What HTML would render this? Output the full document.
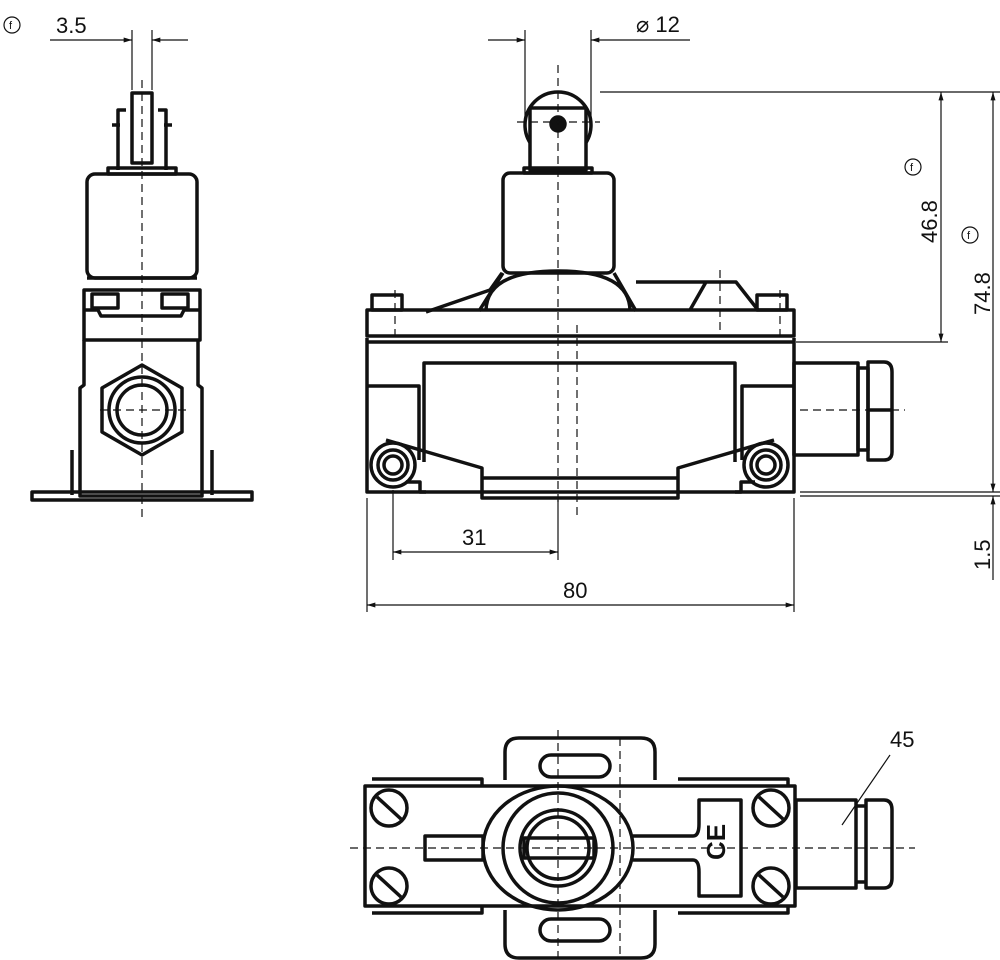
<!DOCTYPE html>
<html><head><meta charset="utf-8"><style>
html,body{margin:0;padding:0;background:#fff}
svg{display:block}
text{font-family:"Liberation Sans",sans-serif;font-size:22px;fill:#111}
</style></head><body>
<svg width="1000" height="960" viewBox="0 0 1000 960" xmlns="http://www.w3.org/2000/svg">
<defs>
<marker id="a" viewBox="0 0 10 6" refX="10" refY="3" markerWidth="14" markerHeight="5" orient="auto-start-reverse" markerUnits="userSpaceOnUse"><path d="M0,0L10,3L0,6z" fill="#111"/></marker>
</defs>
<g fill="none" stroke="#111" stroke-width="3.5" stroke-linejoin="round">
<!-- LEFT VIEW -->
<rect x="132" y="93" width="20" height="70"/>
<path d="M118,170V110h8M166,170V110h-8M112,125h8M164,125h8"/>
<rect x="108" y="168" width="68" height="6"/>
<rect x="87" y="174" width="110" height="104" rx="8"/>
<path d="M87,278h110M84,290h116v50H84zM84,310h14l3,6h80l3,-6h16"/>
<rect x="92" y="294" width="26" height="14"/><rect x="162" y="294" width="26" height="14"/>
<path d="M84,340V385l-4,3V496h122V388l-4,-3V340"/>
<polygon points="142,365 182,388 182,432 142,455 102,432 102,388"/>
<circle cx="142" cy="410" r="33"/><circle cx="142" cy="410" r="25"/>
<path d="M72,450V495M212,450V495"/>
<rect x="32" y="492" width="220" height="8"/>
<!-- FRONT VIEW -->
<circle cx="558" cy="125" r="33"/>
<rect x="530" y="108" width="56" height="62" fill="#fff"/>
<circle cx="558" cy="124" r="7" fill="#111"/>
<rect x="524" y="168" width="68" height="5"/>
<rect x="503" y="173" width="111" height="100" rx="7"/>
<path d="M502,273l-12,17l-64,22M503,273l-24,38M614,273l22,38M486,311q0,-40 72,-40q72,0 72,40M636,282h100l22,28M736,282h-30l-16,28"/>
<rect x="367" y="310" width="427" height="26"/>
<rect x="372" y="295" width="30" height="15"/><rect x="757" y="295" width="30" height="15"/>
<path d="M367,338V492h427V338M367,342h427"/>
<path d="M367,386h52V460M794,386h-52V460"/>
<path d="M424,462V363h311V462"/>
<path d="M386,440l96,28v30h196v-30l96,-28M426,492h-6v-10h-14M735,492h6v-10h14M482,478h196"/>
<circle cx="393" cy="465" r="22"/><circle cx="393" cy="465" r="15"/><circle cx="393" cy="465" r="9"/>
<circle cx="766" cy="465" r="22"/><circle cx="766" cy="465" r="15"/><circle cx="766" cy="465" r="9"/>
<rect x="794" y="363" width="64" height="92"/><rect x="858" y="368" width="10" height="82"/>
<path d="M868,362h16q8,0 8,10V452q0,8 -8,8h-16zM868,410h24"/>
<!-- BOTTOM VIEW -->
<path d="M505,780V752q0,-14 14,-14h122q14,0 14,14V780M505,910V944q0,14 14,14h122q14,0 14,-14V910"/>
<rect x="540" y="755" width="70" height="22" rx="11"/><rect x="540" y="919" width="70" height="22" rx="11"/>
<rect x="365" y="786" width="430" height="120"/>
<path d="M372,779h110v7M372,913h110v-7M678,779h110v7M678,913h110v-7"/>
<ellipse cx="558" cy="848" rx="75" ry="62"/>
<circle cx="558" cy="848" r="55"/><circle cx="558" cy="848" r="38"/><circle cx="558" cy="848" r="31"/>
<rect x="524" y="838" width="70" height="20"/>
<path d="M425,836h58v24h-58zM633,836h60q6,0 6,-12V800h42V896h-42V872q0,-12 -6,-12h-60"/>
<rect x="796" y="800" width="60" height="88"/><path d="M856,806h10V882h-10M866,800h18q8,0 8,10V878q0,10 -8,10h-18z"/>
</g>
<g fill="none" stroke="#111" stroke-width="3.5">
<circle cx="389" cy="808" r="18"/><circle cx="389" cy="886" r="18"/><circle cx="771" cy="808" r="18"/><circle cx="771" cy="886" r="18"/>
<path d="M377,797l24,22M377,875l24,22M759,797l24,22M759,875l24,22"/>
</g>
<text x="705" y="860" transform="rotate(-90 715 850)" style="font-size:26px;font-weight:bold">CE</text>
<g stroke="#111" stroke-width="1.2" stroke-dasharray="8,5" fill="none">
<path d="M142,80V520M100,410H190M558,65V505M517,122H600M577,325V520M350,848H915M558,730V958M620,738V958M800,410H905M395,290V340M780,290V340M720,270V330"/>
</g>
<g stroke="#111" stroke-width="1.2" fill="none">
<path d="M132,30V90M152,30V90"/>
<path d="M50,40H132" marker-end="url(#a)"/><path d="M188,40H152" marker-end="url(#a)"/>
<path d="M525,30V120M591,30V120"/>
<path d="M488,40H525" marker-end="url(#a)"/><path d="M630,40H591" marker-end="url(#a)"/><path d="M630,40H690"/>
<path d="M600,92H1000M796,342H948M800,492H1000M800,496H1000"/>
<path d="M941,92V342" marker-start="url(#a)" marker-end="url(#a)"/>
<path d="M993,92V492" marker-start="url(#a)" marker-end="url(#a)"/>
<path d="M993,520V496" marker-end="url(#a)"/><path d="M993,520V580"/>
<path d="M393,490V560M558,500V560M367,498V612M794,498V612"/>
<path d="M393,552H558" marker-start="url(#a)" marker-end="url(#a)"/>
<path d="M367,605H794" marker-start="url(#a)" marker-end="url(#a)"/>
<path d="M842,825L890,755"/>
<circle cx="12" cy="25" r="8"/><circle cx="913" cy="167" r="8"/><circle cx="970" cy="235" r="8"/>
</g>
<text x="9" y="29" style="font-size:11px">f</text><text x="910" y="171" style="font-size:11px">f</text><text x="967" y="239" style="font-size:11px">f</text>
<text x="56" y="33">3.5</text>
<text x="636" y="32">⌀ 12</text>
<text x="937" y="243" transform="rotate(-90 937 243)">46.8</text>
<text x="990" y="315" transform="rotate(-90 990 315)">74.8</text>
<text x="990" y="570" transform="rotate(-90 990 570)">1.5</text>
<text x="462" y="545">31</text>
<text x="563" y="598">80</text>
<text x="890" y="747">45</text>
</svg>
</body></html>
